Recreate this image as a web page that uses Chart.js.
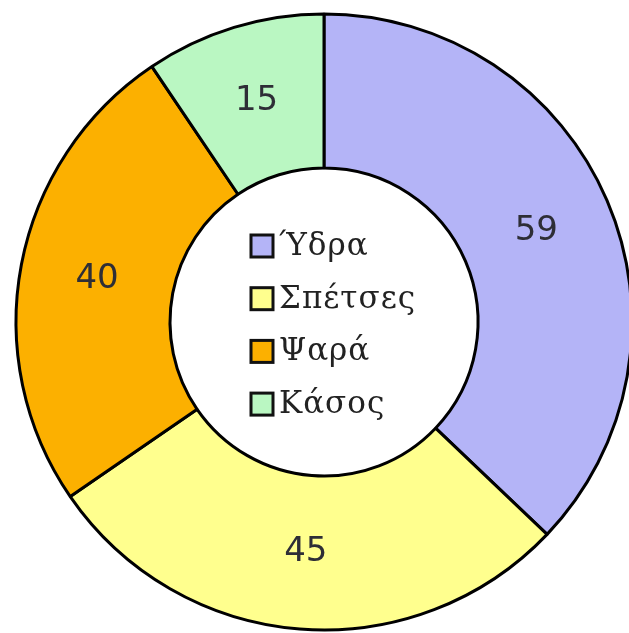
<!DOCTYPE html>
<html>
<head>
<meta charset="utf-8">
<script src="https://cdn.jsdelivr.net/npm/chart.js@4/dist/chart.umd.min.js"></script>
<style>
html,body{margin:0;padding:0;background:#fff;overflow:hidden;width:629px;height:633px;}
#wrap{position:absolute;left:0;top:0;width:640px;height:633px;}
</style>
</head>
<body>
<div id="wrap"><canvas id="c"></canvas></div>
<script>
const categories = ["Ύδρα", "Σπέτσες", "Ψαρά", "Κάσος"];
const values = [59, 45, 40, 15];
const colors = ["#b4b4f7", "#ffff8e", "#fcb000", "#baf7c2"];

const sliceLabels = {
  id: 'sliceLabels',
  afterDatasetsDraw(chart) {
    const ctx = chart.ctx;
    const meta = chart.getDatasetMeta(0);
    ctx.save();
    ctx.font = '34px "DejaVu Sans", Verdana, sans-serif';
    ctx.fillStyle = '#2e2e36';
    ctx.textAlign = 'center';
    ctx.textBaseline = 'middle';
    meta.data.forEach((arc, i) => {
      const p = arc.tooltipPosition();
      ctx.fillText(String(values[i]), p.x, p.y);
    });
    ctx.restore();
  }
};

const centerLegend = {
  id: 'centerLegend',
  afterDatasetsDraw(chart) {
    const ctx = chart.ctx;
    const arc = chart.getDatasetMeta(0).data[0];
    const cx = arc.x, cy = arc.y;
    ctx.save();
    ctx.font = '31px "DejaVu Serif", "Liberation Serif", serif';
    if ('letterSpacing' in ctx) ctx.letterSpacing = '1px';
    ctx.textBaseline = 'middle';
    ctx.textAlign = 'left';
    const rowH = 52.7;
    const left = cx - 73;
    const top = cy - 76;
    categories.forEach((name, i) => {
      const y = top + i * rowH;
      ctx.fillStyle = colors[i];
      ctx.fillRect(left, y - 11, 22, 22);
      ctx.lineWidth = 3;
      ctx.strokeStyle = '#111';
      ctx.strokeRect(left, y - 11, 22, 22);
      ctx.fillStyle = '#222';
      ctx.fillText(name, left + 28, y + 1);
    });
    ctx.restore();
  }
};

new Chart(document.getElementById('c'), {
  type: 'doughnut',
  data: {
    labels: categories,
    datasets: [{
      data: values,
      backgroundColor: colors,
      borderColor: '#000',
      borderWidth: 3,
      borderAlign: 'center'
    }]
  },
  options: {
    responsive: true,
    maintainAspectRatio: false,
    animation: false,
    cutout: '50%',
    layout: { padding: { left: 14.5, right: 6.5, top: 12.5, bottom: 1.5 } },
    plugins: {
      legend: { display: false },
      tooltip: { enabled: false }
    }
  },
  plugins: [sliceLabels, centerLegend]
});
</script>
</body>
</html>
